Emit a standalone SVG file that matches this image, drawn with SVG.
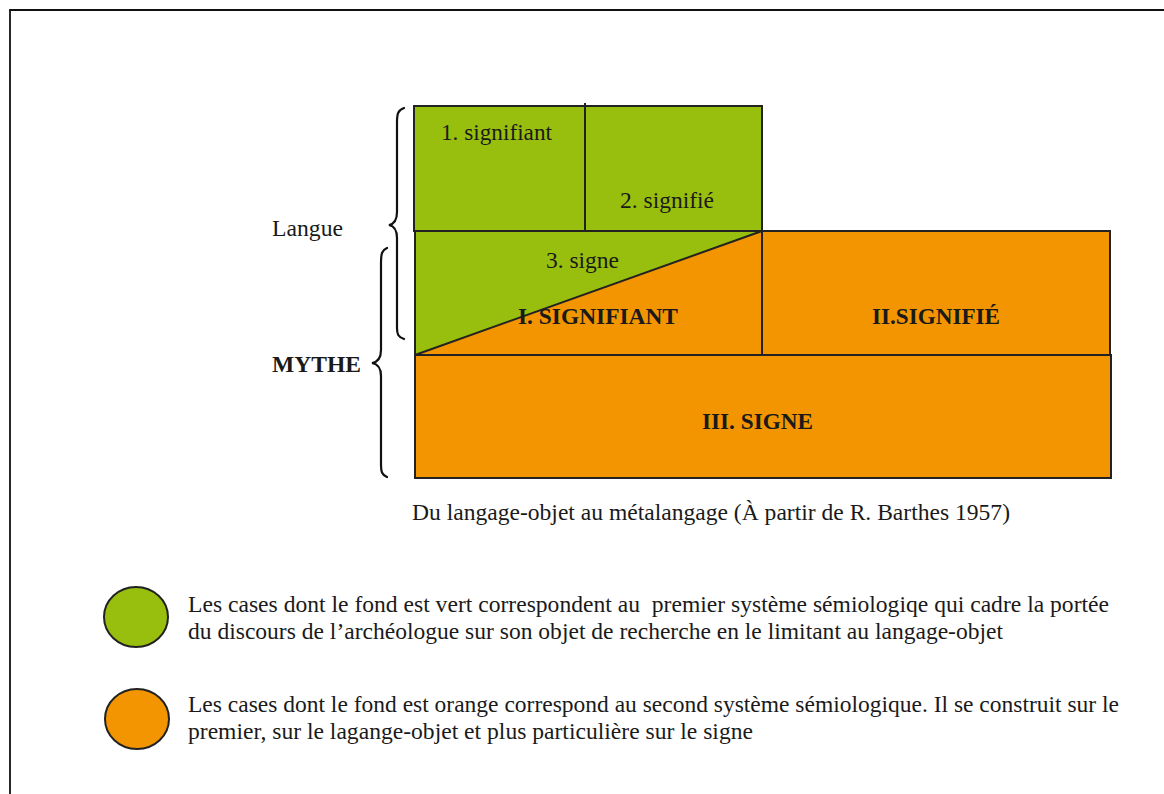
<svg xmlns="http://www.w3.org/2000/svg" width="1164" height="794" viewBox="0 0 1164 794">
<style>
.t{font-family:"Liberation Serif","Times New Roman",serif;font-size:23px;fill:#1a1a1a}
.b{font-weight:bold}
.g{fill:#98BE0E}
.o{fill:#F29500}
.s{stroke:#222;stroke-width:2}
.br{fill:none;stroke:#111;stroke-width:2.2;stroke-linecap:round}
</style>
<rect width="1164" height="794" fill="#fff"/>
<path d="M10,794 L10,10 L1164,10" fill="none" stroke="#111" stroke-width="1.8"/>

<g id="signifiant1">
<rect x="414" y="106" width="171" height="125" class="g s"/>
<text class="t" x="441" y="140" textLength="111" lengthAdjust="spacingAndGlyphs">1. signifiant</text>
</g>
<g id="signifie2">
<rect x="585" y="106" width="177" height="125" class="g s"/>
<line x1="585" y1="103" x2="585" y2="106" class="s"/>
<text class="t" x="620" y="208" textLength="94" lengthAdjust="spacingAndGlyphs">2. signifié</text>
</g>
<g id="signe3">
<rect x="415" y="231" width="347" height="124" class="o s"/>
<polygon points="415,231 762,231 415,355" class="g"/>
<line x1="415" y1="355" x2="762" y2="231" class="s"/>
<rect x="415" y="231" width="347" height="124" fill="none" class="s"/>
<text class="t" x="546" y="268" textLength="73" lengthAdjust="spacingAndGlyphs">3. signe</text>
<text class="t b" x="518" y="324" textLength="160" lengthAdjust="spacingAndGlyphs">I. SIGNIFIANT</text>
</g>
<g id="signifieII">
<rect x="762" y="231" width="348" height="124" class="o s"/>
<text class="t b" x="872" y="324" textLength="128" lengthAdjust="spacingAndGlyphs">II.SIGNIFIÉ</text>
</g>
<g id="signeIII">
<rect x="415" y="355" width="696" height="123" class="o s"/>
<text class="t b" x="702" y="429" textLength="111" lengthAdjust="spacingAndGlyphs">III. SIGNE</text>
</g>

<g id="langue">
<path class="br" d="M404,108 C398,110 397,114 397,122 L397,212 C397,220 394,224 389,225 C394,226 397,230 397,238 L397,328 C397,334 398,337 404,339"/>
<text class="t" x="272" y="236" textLength="71" lengthAdjust="spacingAndGlyphs">Langue</text>
</g>
<g id="mythe">
<path class="br" d="M387,248 C382,250 381,254 381,262 L381,350 C381,358 378,362 372,363 C378,364 381,368 381,376 L381,464 C381,472 382,475 387,477"/>
<text class="t b" x="272" y="372" textLength="89" lengthAdjust="spacingAndGlyphs">MYTHE</text>
</g>

<text class="t" x="412" y="520" textLength="598" lengthAdjust="spacingAndGlyphs">Du langage-objet au métalangage (À partir de R. Barthes 1957)</text>

<g id="legend-green">
<ellipse cx="136" cy="617" rx="32" ry="30" class="g s"/>
<text class="t" x="188" y="612" textLength="921" lengthAdjust="spacingAndGlyphs" xml:space="preserve">Les cases dont le fond est vert correspondent au  premier système sémiologiqe qui cadre la portée</text>
<text class="t" x="188" y="639" textLength="815" lengthAdjust="spacingAndGlyphs">du discours de l’archéologue sur son objet de recherche en le limitant au langage-objet</text>
</g>
<g id="legend-orange">
<ellipse cx="137" cy="719" rx="32" ry="30" class="o s"/>
<text class="t" x="188" y="712" textLength="931" lengthAdjust="spacingAndGlyphs">Les cases dont le fond est orange correspond au second système sémiologique. Il se construit sur le</text>
<text class="t" x="188" y="739" textLength="565" lengthAdjust="spacingAndGlyphs">premier, sur le lagange-objet et plus particulière sur le signe</text>
</g>
</svg>
